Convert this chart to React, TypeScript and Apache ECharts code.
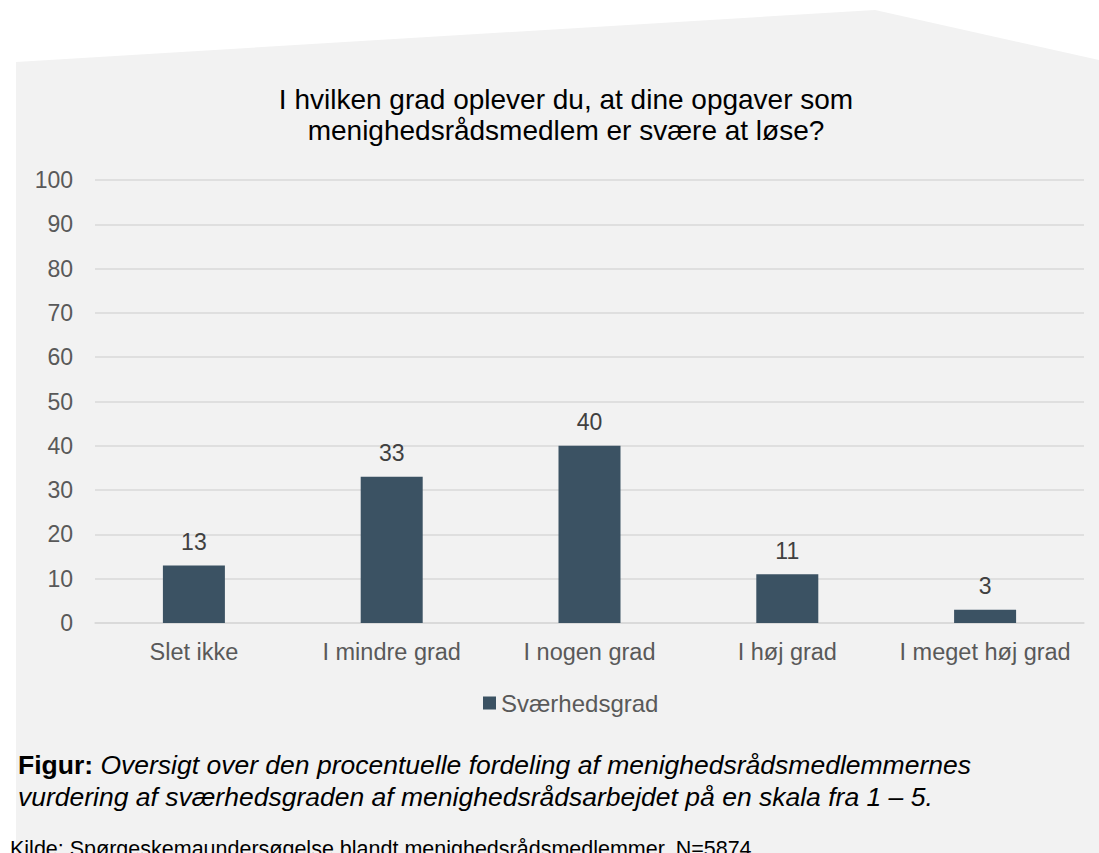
import React, { useEffect, useRef } from "react";
import * as echarts from "echarts";

const categories = ["Slet ikke", "I mindre grad", "I nogen grad", "I høj grad", "I meget høj grad"];
const seriesName = "Sværhedsgrad";
const values = [13, 33, 40, 11, 3];
const titleText = "I hvilken grad oplever du, at dine opgaver som\nmenighedsrådsmedlem er svære at løse?";
const captionBold = "Figur:";
const captionLine1 = "Oversigt over den procentuelle fordeling af menighedsrådsmedlemmernes";
const captionLine2 = "vurdering af sværhedsgraden af menighedsrådsarbejdet på en skala fra 1 – 5.";
const sourceText = "Kilde: Spørgeskemaundersøgelse blandt menighedsrådsmedlemmer, N=5874";

const FONT = "Liberation Sans, Arial, sans-serif";

export default function App() {
  const ref = useRef<HTMLDivElement>(null);
  useEffect(() => {
    if (!ref.current) return;
    const chart = echarts.init(ref.current, undefined, { renderer: "svg" });
    chart.setOption({
      animation: false,
      backgroundColor: "#ffffff",
      textStyle: { fontFamily: FONT },
      title: {
        text: titleText,
        left: 561,
        textAlign: "center",
        top: 79,
        textStyle: {
          fontFamily: FONT,
          fontSize: 28,
          fontWeight: "normal",
          color: "#000000",
          lineHeight: 31,
        },
      },
      graphic: [
        {
          type: "polygon",
          z: -10,
          silent: true,
          shape: {
            points: [
              [16, 62],
              [875, 10],
              [1099, 60],
              [1099, 853],
              [16, 853],
            ],
          },
          style: { fill: "#f2f2f2" },
        },
        {
          type: "text",
          left: 18,
          top: 751,
          style: {
            text: `{b|${captionBold} }{i|${captionLine1}}\n{i|${captionLine2}}`,
            fill: "#000000",
            rich: {
              b: { fontFamily: FONT, fontSize: 26.5, fontWeight: "bold", fill: "#000000", lineHeight: 32 },
              i: { fontFamily: FONT, fontSize: 26.5, fontStyle: "italic", fill: "#000000", lineHeight: 32 },
            },
          },
        },
        {
          type: "text",
          left: 10,
          top: 838,
          style: {
            text: sourceText,
            fontFamily: FONT,
            fontSize: 21.5,
            fill: "#000000",
          },
        },
      ],
      legend: {
        data: [seriesName],
        left: 478,
        top: 686,
        icon: "rect",
        itemWidth: 13,
        itemHeight: 13,
        textStyle: { fontFamily: FONT, fontSize: 24, color: "#595959" },
      },
      grid: { left: 95, right: 15, top: 180, bottom: 230, containLabel: false },
      xAxis: {
        type: "category",
        data: categories,
        axisLine: { show: true, lineStyle: { color: "#d9d9d9", width: 1.5 } },
        axisTick: { show: false },
        axisLabel: { interval: 0, fontFamily: FONT, fontSize: 23.5, color: "#595959", margin: 17 },
      },
      yAxis: {
        type: "value",
        min: 0,
        max: 100,
        interval: 10,
        axisLine: { show: false },
        axisTick: { show: false },
        axisLabel: { fontFamily: FONT, fontSize: 23, color: "#595959", margin: 22 },
        splitLine: { lineStyle: { color: "#d9d9d9", width: 1.5 } },
      },
      series: [
        {
          name: seriesName,
          type: "bar",
          data: values,
          barWidth: 62,
          itemStyle: { color: "#3b5263" },
          label: {
            show: true,
            position: "top",
            distance: 12,
            fontFamily: FONT,
            fontSize: 23,
            color: "#404040",
          },
        },
      ],
    });
    return () => chart.dispose();
  }, []);
  return (
    <div
      ref={ref}
      style={{ position: "fixed", left: 0, top: 0, width: 1099, height: 853 }}
    />
  );
}
